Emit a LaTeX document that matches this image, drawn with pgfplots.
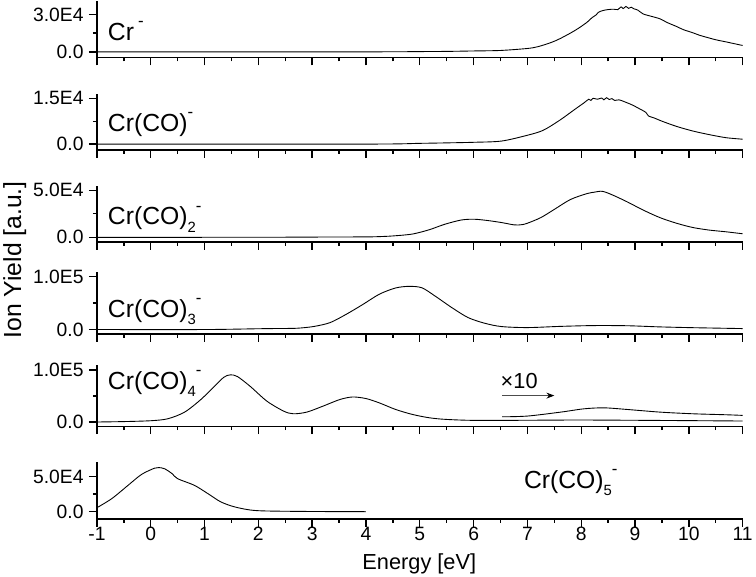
\documentclass[border=0pt]{standalone}
\usepackage{fontspec}
\setmainfont{Liberation Sans}
\usepackage{pgfplots}
\pgfplotsset{compat=1.18}
\usetikzlibrary{arrows.meta}
\pgfplotsset{panel/.style={
  width=653pt, scale only axis, xmin=-1, xmax=11,
  anchor=south west,
  axis x line*=bottom, axis y line*=left,
  axis line style={line width=1.4pt,-},
  tick align=outside, major tick length=8pt, minor tick length=4pt,
  major tick style={line width=1.4pt,black}, minor tick style={line width=1.4pt,black},
  xtick={-1,0,...,11}, minor x tick num=1, xticklabels={},
  minor y tick num=1, scaled y ticks=false,
  tick label style={font=\fontsize{19.5}{22}\selectfont},
  yticklabel style={xshift=-2pt},
  xticklabel style={yshift=3pt},
  every axis plot/.append style={black, line width=0.9pt},
}}
\newcommand{\lab}[1]{\fontsize{25}{28}\selectfont #1}
\newcommand{\csub}[1]{\raisebox{-0.3em}{\fontsize{15}{15}\selectfont #1}}
\newcommand{\csup}{\raisebox{0.55em}{\fontsize{17}{17}\selectfont -}}
\begin{document}
\begin{tikzpicture}
\path (0,0) rectangle (756pt,-581pt);
% Panel 1 Cr-
\begin{axis}[panel, at={(95pt,-57.3pt)}, height=57.3pt, ymin=-4456, ymax=41143,
  ytick={0,30000}, yticklabels={0.0,3.0E4}]
\addplot[smooth] coordinates {(-1,0) (4,0) (5,200) (5.5,350) (6,700) (6.5,1100) (7,2700) (7.2,4200) (7.44,7500) (7.6,10500) (7.8,15100) (7.95,19000) (8.11,23900) (8.2,27500) (8.27,29500) (8.32,31800) (8.4,33200) (8.5,34000) (8.6,34300) (8.68,34000) (8.74,36200) (8.78,34800) (8.83,36500) (8.88,35000) (8.93,35900) (8.98,34600) (9.05,33600) (9.15,30500) (9.3,28600) (9.46,26600) (9.6,23500) (9.77,20400) (9.9,17800) (10.07,15400) (10.2,13300) (10.38,11100) (10.5,9700) (10.69,8000) (10.85,6500) (11,5100)};
\end{axis}
% Panel 2 Cr(CO)-
\begin{axis}[panel, at={(95pt,-151pt)}, height=56.5pt, ymin=-1944, ymax=16360,
  ytick={0,15000}, yticklabels={0.0,1.5E4}]
\addplot[smooth] coordinates {(-1,0) (4,0) (5,250) (5.5,400) (6.02,600) (6.52,1000) (7.0,2900) (7.29,4500) (7.59,7700) (7.89,11500) (8.05,13500) (8.14,14700) (8.18,14300) (8.22,15000) (8.3,14700) (8.38,15100) (8.42,14500) (8.47,15200) (8.52,14600) (8.57,14900) (8.62,14300) (8.7,14500) (8.8,13900) (8.95,12800) (9.1,11400) (9.2,10400) (9.25,9200) (9.35,8600) (9.5,7500) (9.77,5800) (10.07,4300) (10.38,3100) (10.69,2100) (11,1600)};
\end{axis}
% Panel 3 Cr(CO)2-
\begin{axis}[panel, at={(95pt,-244pt)}, height=57pt, ymin=-4935, ymax=54900,
  ytick={0,50000}, yticklabels={0.0,5.0E4}]
\addplot[smooth] coordinates {(-1,0) (2,100) (3,300) (4,500) (4.25,800) (4.5,1500) (4.86,3500) (5.17,8000) (5.47,14000) (5.78,18500) (6.02,19200) (6.27,17800) (6.52,15700) (6.76,13200) (6.9,13500) (7.0,15000) (7.25,21000) (7.5,29700) (7.8,40200) (8.11,46500) (8.25,48000) (8.36,49000) (8.45,48000) (8.6,44500) (8.85,37800) (9.15,29000) (9.46,21000) (9.77,15000) (10.07,10500) (10.38,7700) (10.69,5900) (11,3800)};
\end{axis}
% Panel 4 Cr(CO)3-
\begin{axis}[panel, at={(95pt,-337pt)}, height=63pt, ymin=-8430, ymax=109600,
  ytick={0,100000}, yticklabels={0.0,1.0E5}]
\addplot[smooth] coordinates {(-1,0) (1,0) (2,1500) (2.4,2000) (2.71,2400) (3.02,5600) (3.33,13000) (3.63,28700) (3.94,47400) (4.25,67000) (4.55,78700) (4.8,81800) (5.04,79000) (5.29,63000) (5.6,41200) (5.9,22500) (6.21,11800) (6.52,5600) (7.0,3700) (7.62,6000) (8.23,7500) (8.85,7200) (9.46,5000) (10.07,3500) (11,1800)};
\end{axis}
% Panel 5 Cr(CO)4-
\begin{axis}[panel, at={(95pt,-430.3pt)}, height=62.3pt, ymin=-8160, ymax=110100,
  ytick={0,100000}, yticklabels={0.0,1.0E5}]
\addplot[smooth] coordinates {(-1,0) (-0.5,800) (0.01,2500) (0.32,6300) (0.63,19000) (0.93,43000) (1.18,68300) (1.36,86000) (1.48,90500) (1.61,87300) (1.85,68300) (2.16,39900) (2.47,20900) (2.65,15800) (2.9,19000) (3.2,30400) (3.51,43000) (3.75,48000) (4.0,45000) (4.25,36600) (4.55,24100) (4.86,14600) (5.17,8200) (5.47,5100) (5.96,3200) (6.7,3200) (7.93,3800) (9.15,3200) (11,1900)};
\addplot[smooth] coordinates {(6.53,10000) (7.0,11400) (7.62,19000) (8.05,25300) (8.42,27200) (8.85,24100) (9.46,19000) (10.07,15800) (10.69,13900) (11,12700)};
\draw[black!70, line width=1pt, -{Stealth[length=8pt,width=6pt,black]}] (axis cs:6.53,50700) -- (axis cs:7.5,50700);
\node[anchor=west, inner sep=0pt, font=\fontsize{22}{24}\selectfont] at (axis cs:6.5,78000) {×10};
\end{axis}
% Panel 6 Cr(CO)5-
\begin{axis}[panel, at={(95pt,-524pt)}, height=57.3pt, ymin=-10220, ymax=70000,
  ytick={0,50000}, yticklabels={0.0,5.0E4},
  xticklabels={-1,0,1,2,3,4,5,6,7,8,9,10,11}]
\addplot[smooth] coordinates {(-1,5600) (-0.72,18700) (-0.42,37400) (-0.17,52800) (0.07,61600) (0.15,62500) (0.26,60700) (0.4,53700) (0.5,46700) (0.81,37400) (1.06,25700) (1.3,14000) (1.55,7000) (1.85,2400) (2.16,1000) (3,300) (4.0,0)};
\end{axis}
% species labels
\node[anchor=base west, inner sep=0pt] at (106pt,-40pt) {\lab{Cr\,\csup}};
\node[anchor=base west, inner sep=0pt] at (106pt,-132pt) {\lab{Cr(CO)\csup}};
\node[anchor=base west, inner sep=0pt] at (106pt,-226.7pt) {\lab{Cr(CO)\csub{2}\csup}};
\node[anchor=base west, inner sep=0pt] at (106pt,-320pt) {\lab{Cr(CO)\csub{3}\csup}};
\node[anchor=base west, inner sep=0pt] at (106pt,-393pt) {\lab{Cr(CO)\csub{4}\csup}};
\node[anchor=base west, inner sep=0pt] at (526.7pt,-493pt) {\lab{Cr(CO)\csub{5}\csup}};
% axis labels
\node[rotate=90, font=\fontsize{25}{28}\selectfont] at (12pt,-262pt) {Ion Yield [a.u.]};
\node[font=\fontsize{22}{25}\selectfont] at (421pt,-569pt) {Energy [eV]};
\end{tikzpicture}
\end{document}
